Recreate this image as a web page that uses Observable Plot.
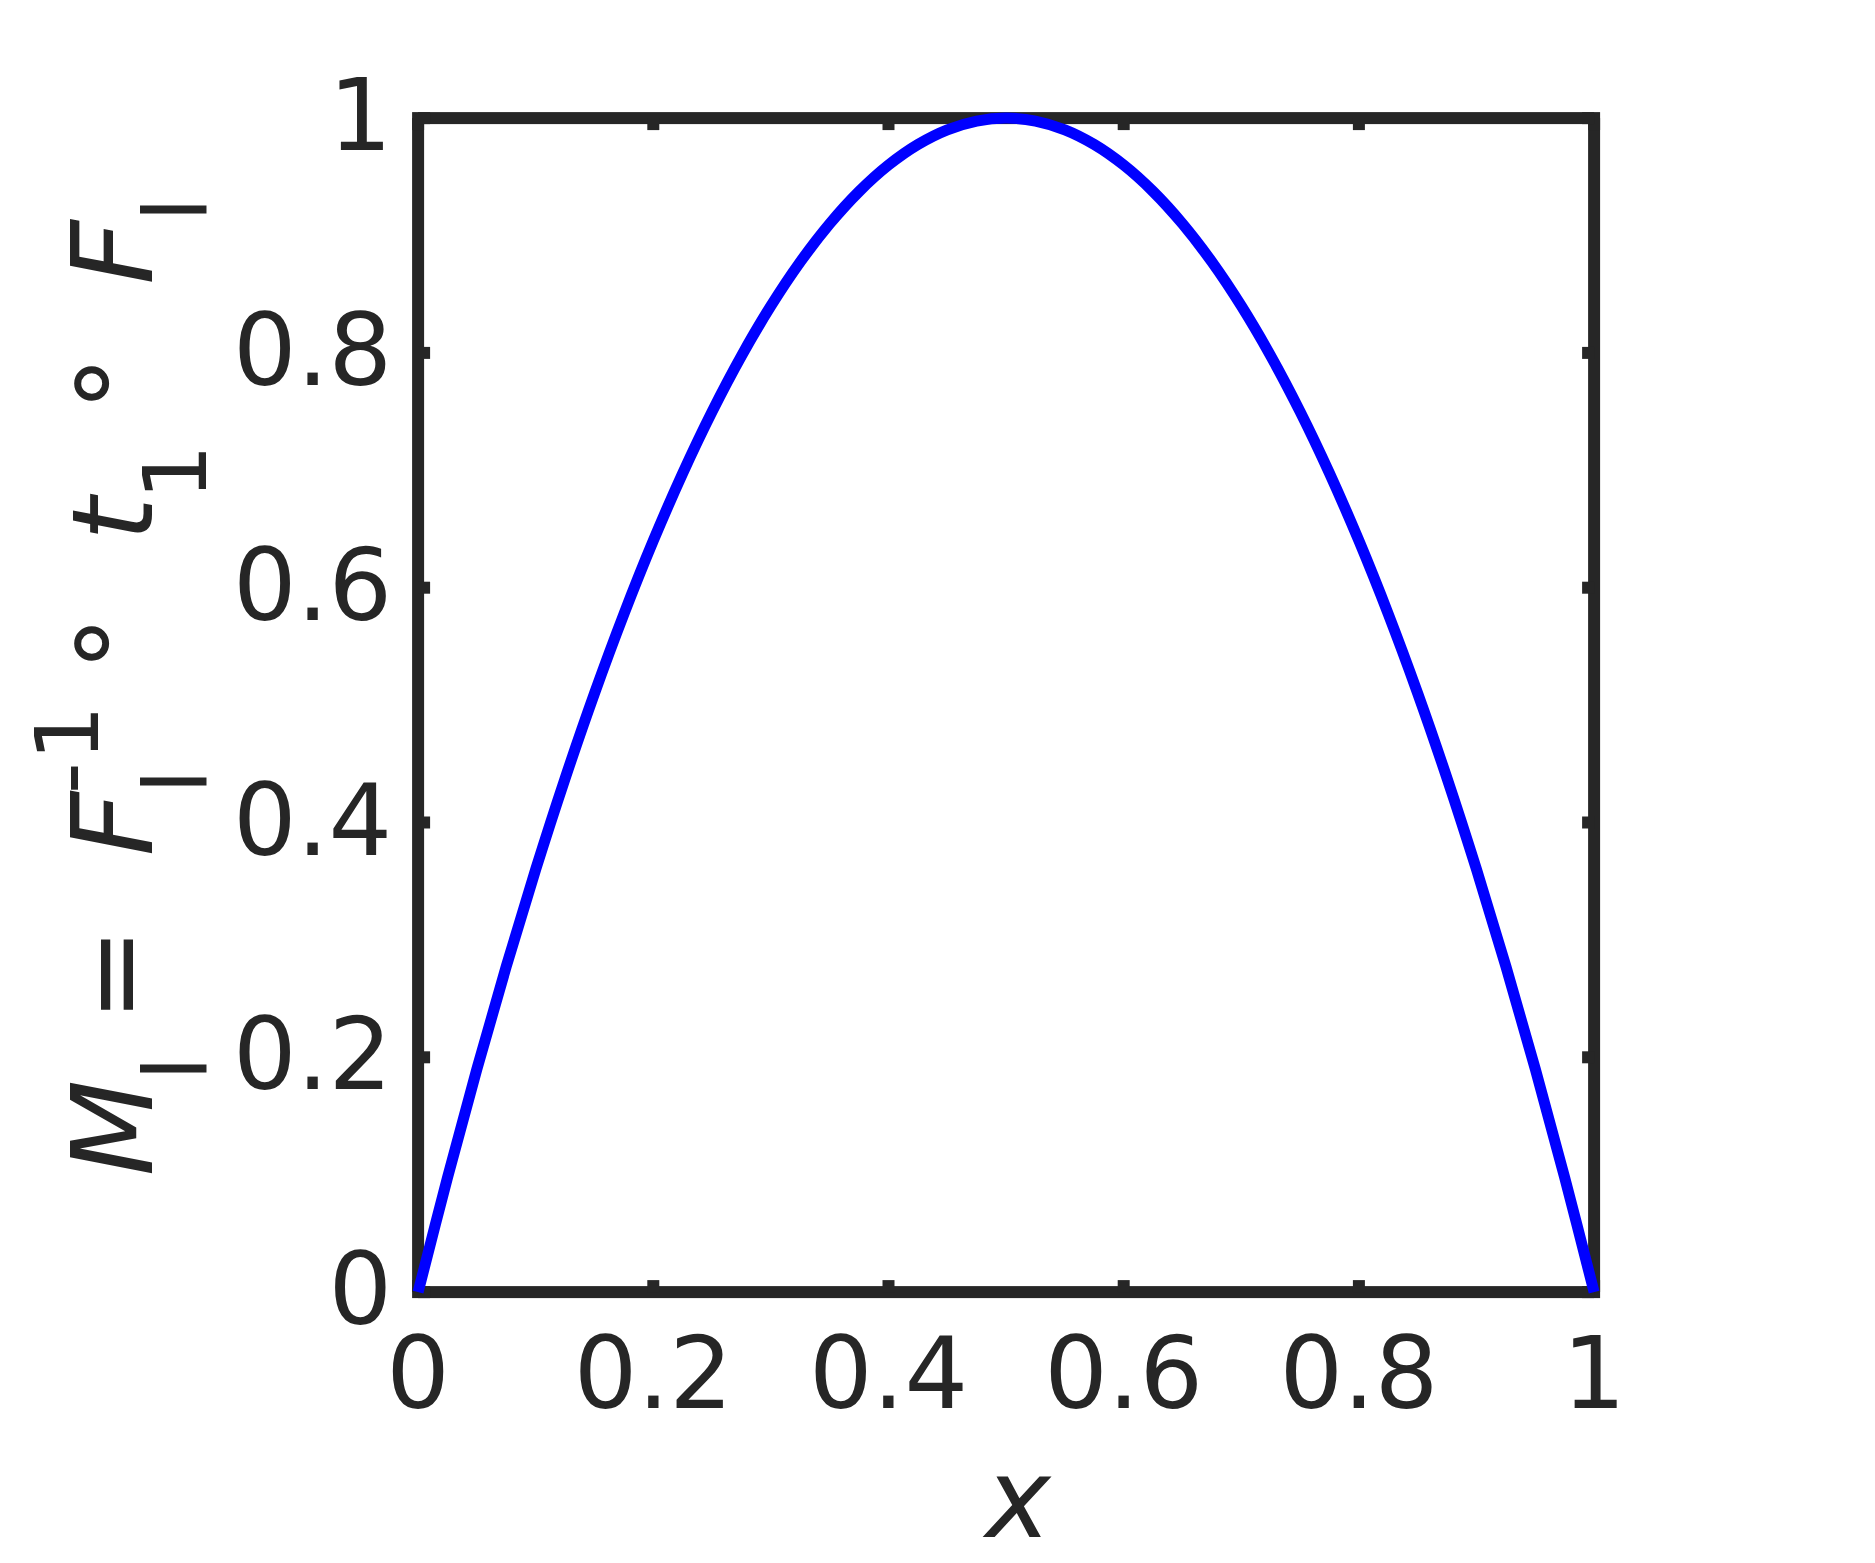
<!DOCTYPE html>
<html>
<head>
<meta charset="utf-8">
<script src="https://cdn.jsdelivr.net/npm/d3@7"></script>
<script src="https://cdn.jsdelivr.net/npm/@observablehq/plot@0.6"></script>
<style>
  html, body { margin: 0; padding: 0; background: #fff; overflow: hidden; }
  svg { display: block; }
</style>
</head>
<body>
<div id="chart"></div>
<script>
// ---- data ----
const xValues = [0, 0.025, 0.05, 0.075, 0.1, 0.125, 0.15, 0.175, 0.2, 0.225, 0.25,
                 0.275, 0.3, 0.325, 0.35, 0.375, 0.4, 0.425, 0.45, 0.475, 0.5,
                 0.525, 0.55, 0.575, 0.6, 0.625, 0.65, 0.675, 0.7, 0.725, 0.75,
                 0.775, 0.8, 0.825, 0.85, 0.875, 0.9, 0.925, 0.95, 0.975, 1];
const yValues = [0, 0.0975, 0.19, 0.2775, 0.36, 0.4375, 0.51, 0.5775, 0.64, 0.6975, 0.75,
                 0.7975, 0.84, 0.8775, 0.91, 0.9375, 0.96, 0.9775, 0.99, 0.9975, 1.0,
                 0.9975, 0.99, 0.9775, 0.96, 0.9375, 0.91, 0.8775, 0.84, 0.7975, 0.75,
                 0.6975, 0.64, 0.5775, 0.51, 0.4375, 0.36, 0.2775, 0.19, 0.0975, 0];
const xTicks = [0, 0.2, 0.4, 0.6, 0.8, 1];
const xTickLabels = ["0", "0.2", "0.4", "0.6", "0.8", "1"];
const yTicks = [0, 0.2, 0.4, 0.6, 0.8, 1];
const yTickLabels = ["0", "0.2", "0.4", "0.6", "0.8", "1"];
const xLabel = "x";
// y label: M_l = F_l^{-1} ∘ t_1 ∘ F_l
const yLabelParts = [
  {text: "M", role: "main", italic: true},
  {text: "l", role: "sub"},
  {text: "=", role: "main"},
  {text: "F", role: "main", italic: true},
  {text: "l", role: "sub"},
  {text: "-", role: "sup"},
  {text: "1", role: "sup"},
  {text: "∘", role: "ring"},
  {text: "t", role: "main", italic: true},
  {text: "1", role: "sub"},
  {text: "∘", role: "ring"},
  {text: "F", role: "main", italic: true},
  {text: "l", role: "sub"}
];

const data = xValues.map((x, i) => ({x, y: yValues[i]}));
const ink = "#262626";
const tickShape = {draw(context, l) { context.moveTo(0, 0); context.lineTo(0, -l); }};
const tickOpts = {length: 12, anchor: "start", shape: tickShape, stroke: ink, strokeWidth: 12, strokeLinecap: "butt"};

const svg = Plot.plot({
  width: 1875,
  height: 1563,
  marginLeft: 417.6,
  marginRight: 281.4,
  marginTop: 117.6,
  marginBottom: 271.4,
  style: {fontFamily: "DejaVu Sans", color: ink, background: "#fff", overflow: "visible"},
  x: {domain: [0, 1]},
  y: {domain: [0, 1]},
  marks: [
    Plot.frame({stroke: ink, strokeWidth: 12}),
    Plot.vector(xTicks, {x: d => d, frameAnchor: "bottom", rotate: 0, ...tickOpts}),
    Plot.vector(xTicks, {x: d => d, frameAnchor: "top", rotate: 180, ...tickOpts}),
    Plot.vector(yTicks, {y: d => d, frameAnchor: "left", rotate: 90, ...tickOpts}),
    Plot.vector(yTicks, {y: d => d, frameAnchor: "right", rotate: -90, ...tickOpts}),
    Plot.axisX({ticks: xTicks, tickSize: 0, tickPadding: 44.5, fontSize: 100, fill: ink,
      tickFormat: d => xTickLabels[xTicks.indexOf(d)], label: null}),
    Plot.axisY({ticks: yTicks, tickSize: 0, tickPadding: 26, fontSize: 100, fill: ink,
      tickFormat: d => yTickLabels[yTicks.indexOf(d)], label: null}),
    Plot.text([xLabel], {frameAnchor: "bottom", text: d => d, dy: 210, dx: 12, fontSize: 110,
      fontStyle: "italic", fill: ink, lineAnchor: "middle"}),
    Plot.line(data, {x: "x", y: "y", stroke: "#0000ff", strokeWidth: 11,
      curve: "catmull-rom", strokeLinecap: "butt"})
  ]
});

const labelCenters = [45, 104.5, 198.5, 349, 391.5, 395, 440, 529.5, 654, 701, 789.5, 920.5, 963.5];
const roleStyle = {
  main: {size: 112, y: 0},
  sub: {size: 88, y: 54},
  sup: {size: 88, y: -54},
  ring: {size: 112, y: -25}
};
const lbl = d3.select(svg).append("text")
  .attr("transform", "translate(151.7,1173) rotate(-90)")
  .attr("fill", ink)
  .attr("font-family", "DejaVu Sans")
  .attr("text-anchor", "middle");
yLabelParts.forEach((p, i) => {
  const s = roleStyle[p.role];
  lbl.append("tspan")
    .attr("x", labelCenters[i])
    .attr("y", s.y)
    .attr("font-size", s.size)
    .attr("font-style", p.italic ? "italic" : "normal")
    .text(p.text);
});

document.getElementById("chart").appendChild(svg);
</script>
</body>
</html>
